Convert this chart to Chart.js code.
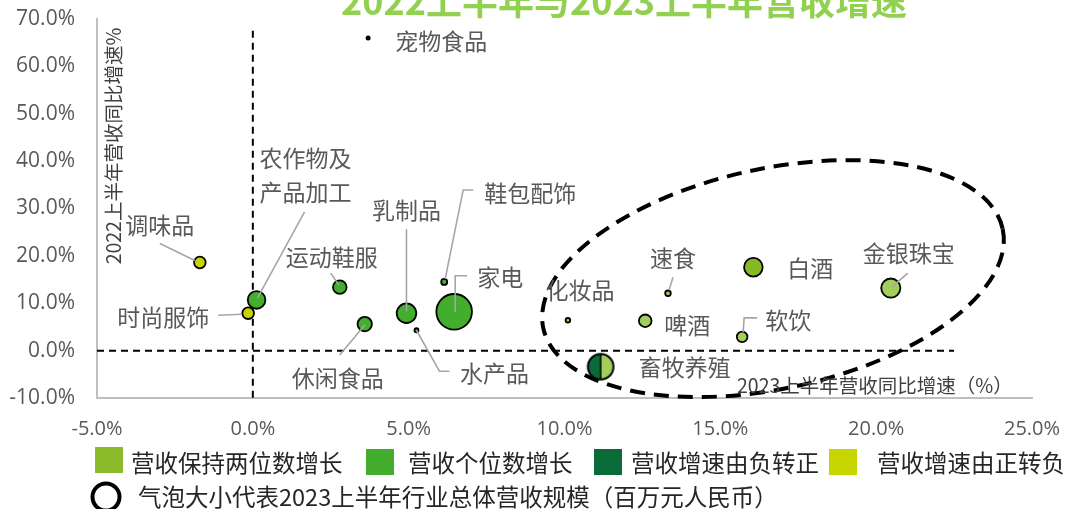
<!DOCTYPE html>
<html>
<head>
<meta charset="utf-8">
<script src="https://cdn.jsdelivr.net/npm/chart.js@4.4.0/dist/chart.umd.min.js"></script>
<style>
html,body{margin:0;padding:0;background:#fff;}
#wrap{position:relative;width:1071px;height:509px;overflow:hidden;}
canvas{position:absolute;left:0;top:0;}
</style>
</head>
<body>
<div id="wrap"><canvas id="c" width="1071" height="509"></canvas></div>
<script>
// ---------------- data ----------------
const industries = ['宠物食品','调味品','时尚服饰','农作物及产品加工','运动鞋服','休闲食品','乳制品','水产品','鞋包配饰','家电','化妆品','速食','啤酒','白酒','软饮','金银珠宝','畜牧养殖'];
const growth2023 = [3.7, -1.7, -0.15, 0.12, 2.79, 3.59, 4.93, 5.25, 6.14, 6.46, 10.11, 13.32, 12.59, 16.06, 15.7, 20.47, 11.16];
const growth2022 = [66.0, 18.6, 7.9, 10.7, 13.4, 5.6, 7.9, 4.3, 14.5, 8.2, 6.4, 12.1, 6.3, 17.6, 2.9, 13.2, -3.4];
const bubbleSize = [2.5, 5.8, 5.8, 8.8, 6.8, 7.2, 9.8, 2.0, 3.0, 17.8, 2.3, 2.8, 6.3, 9.3, 5.3, 9.6, 12.8];
const growthGroup = ['note','posToNeg','posToNeg','single','single','single','single','single','single','single','doubleLight','doubleLight','doubleLight','double','doubleLight','doubleLight','negToPos'];
const legendGroups = ['营收保持两位数增长','营收个位数增长','营收增速由负转正','营收增速由正转负'];
const legendSizeNote = '气泡大小代表2023上半年行业总体营收规模（百万元人民币）';
const xTicks = [-5, 0, 5, 10, 15, 20, 25];
const yTicks = [-10, 0, 10, 20, 30, 40, 50, 60, 70];
const chartTitle = '2022上半年与2023上半年营收增速';
const xTitle = '2023上半年营收同比增速（%）';
const yTitle = '2022上半年营收同比增速%';

// ---------------- styles ----------------
const groupColors = {
  note: '#000000',
  double: '#86BA25',
  doubleLight: '#A2CE5C',
  single: '#43AE2D',
  negToPos: '#0B6B38',
  posToNeg: '#C6D500'
};
const legendColors = ['#8BBB2A', '#43AE2D', '#0B6B38', '#C6D600'];

// label placement (pixel offsets from the bubble centre)
const labelLayout = [
  {lines:[[73,3]], leader:null},
  {lines:[[-40,-37]], leader:[[-40,-19],[-5,-2]]},
  {lines:[[-85,4]], leader:[[-30,2],[-7,1]]},
  {lines:[[49,-142],[49,-108]], leader:[[48,-88],[1,-2]], text:['农作物及','产品加工']},
  {lines:[[-8,-30]], leader:[[-9,-14],[-1,-2]]},
  {lines:[[-27,54]], leader:[[-25,31],[0,1]]},
  {lines:[[0,-103]], leader:[[0,-84],[0,-2]]},
  {lines:[[78,43]], leader:[[33,41],[23,41],[0,0]]},
  {lines:[[86,-89]], leader:[[29,-92],[19,-92],[1,-3]]},
  {lines:[[46,-35]], leader:[[13,-36],[1,-36],[1,0]]},
  {lines:[[12,-30]], leader:null},
  {lines:[[5,-35]], leader:[[5,-16],[1,-3]]},
  {lines:[[42,4]], leader:null},
  {lines:[[57,1]], leader:null},
  {lines:[[46,-17]], leader:[[15,-19],[2,-19],[1,-5]]},
  {lines:[[18,-35]], leader:[[17,-15],[1,-1]]},
  {lines:[[84,1]], leader:null}
];
const ellipseSpec = {cx:16.69, cy:15.2, a:7.54, b:3.53, angleDeg:-12.2};

const CJK = '"Noto Sans CJK SC", "Noto Sans", sans-serif';

function halfMarker(r) {
  const s = Math.ceil(2 * r + 4);
  const cv = document.createElement('canvas');
  cv.width = s; cv.height = s;
  const g = cv.getContext('2d');
  const c = s / 2;
  g.fillStyle = groupColors.negToPos;
  g.beginPath(); g.arc(c, c, r, Math.PI / 2, Math.PI * 1.5); g.closePath(); g.fill();
  g.fillStyle = groupColors.doubleLight;
  g.beginPath(); g.arc(c, c, r, -Math.PI / 2, Math.PI / 2); g.closePath(); g.fill();
  g.strokeStyle = '#000'; g.lineWidth = 1.5;
  g.beginPath(); g.moveTo(c, c - r); g.lineTo(c, c + r); g.stroke();
  g.lineWidth = 2;
  g.beginPath(); g.arc(c, c, r, 0, Math.PI * 2); g.stroke();
  return cv;
}

const points = industries.map((n, i) => ({x: growth2023[i], y: growth2022[i], r: bubbleSize[i]}));
const bg = growthGroup.map(g => groupColors[g]);
const styles = growthGroup.map((g, i) => g === 'negToPos' ? halfMarker(bubbleSize[i]) : 'circle');
const bw = growthGroup.map(g => g === 'note' ? 0 : 1.8);

const overlay = {
  id: 'overlay',
  beforeDatasetsDraw(chart) {
    const {ctx, scales: {x, y}} = chart;
    ctx.save();
    ctx.strokeStyle = '#000'; ctx.lineWidth = 2; ctx.setLineDash([7, 5]);
    ctx.beginPath();
    ctx.moveTo(x.getPixelForValue(0), y.getPixelForValue(67.5));
    ctx.lineTo(x.getPixelForValue(0), y.getPixelForValue(-10));
    ctx.stroke();
    ctx.beginPath();
    ctx.moveTo(x.getPixelForValue(-5), y.getPixelForValue(0));
    ctx.lineTo(x.getPixelForValue(22.5), y.getPixelForValue(0));
    ctx.stroke();
    const unit = x.getPixelForValue(1) - x.getPixelForValue(0);
    ctx.lineWidth = 4; ctx.setLineDash([15, 9]);
    ctx.beginPath();
    ctx.ellipse(x.getPixelForValue(ellipseSpec.cx), y.getPixelForValue(ellipseSpec.cy),
      ellipseSpec.a * unit, ellipseSpec.b * unit, ellipseSpec.angleDeg * Math.PI / 180, 0, Math.PI * 2);
    ctx.stroke();
    ctx.restore();
  },
  afterDatasetsDraw(chart) {
    const {ctx, scales: {x, y}} = chart;
    ctx.save();
    ctx.strokeStyle = '#A6A6A6'; ctx.lineWidth = 1.6; ctx.setLineDash([]);
    industries.forEach((n, i) => {
      const L = labelLayout[i];
      if (!L.leader) return;
      const px = x.getPixelForValue(growth2023[i]), py = y.getPixelForValue(growth2022[i]);
      ctx.beginPath();
      L.leader.forEach((p, k) => { if (k === 0) ctx.moveTo(px + p[0], py + p[1]); else ctx.lineTo(px + p[0], py + p[1]); });
      ctx.stroke();
    });
    ctx.fillStyle = '#595959'; ctx.font = '23px ' + CJK;
    ctx.textAlign = 'center'; ctx.textBaseline = 'middle';
    industries.forEach((n, i) => {
      const L = labelLayout[i];
      const px = x.getPixelForValue(growth2023[i]), py = y.getPixelForValue(growth2022[i]);
      const texts = L.text || [n];
      L.lines.forEach((o, k) => ctx.fillText(texts[k], px + o[0], py + o[1]));
    });
    ctx.fillStyle = '#404040'; ctx.font = '19.5px ' + CJK;
    ctx.textAlign = 'left';
    ctx.fillText(xTitle, 737, 386);
    ctx.save();
    ctx.translate(114, 146); ctx.rotate(-Math.PI / 2);
    ctx.textAlign = 'center';
    ctx.fillText(yTitle, 0, 0);
    ctx.restore();
    ctx.fillStyle = '#92D050'; ctx.font = 'bold 36px ' + CJK;
    ctx.textAlign = 'center'; ctx.textBaseline = 'alphabetic';
    ctx.fillText(chartTitle, 624, 15);
    ctx.textAlign = 'left'; ctx.textBaseline = 'middle';
    ctx.font = '23.5px ' + CJK;
    const sw = [[95, 447], [366, 449], [594, 449], [829, 449]];
    const tx = [131, 408, 631, 877];
    legendGroups.forEach((t, i) => {
      ctx.fillStyle = legendColors[i];
      ctx.fillRect(sw[i][0], sw[i][1], 28, 26);
      ctx.fillStyle = '#262626';
      ctx.fillText(t, tx[i], 463);
    });
    ctx.strokeStyle = '#000'; ctx.lineWidth = 4;
    ctx.beginPath(); ctx.arc(106, 497, 13.5, 0, Math.PI * 2); ctx.stroke();
    ctx.fillText(legendSizeNote, 138, 497);
    ctx.restore();
  }
};

new Chart(document.getElementById('c'), {
  type: 'bubble',
  data: {
    datasets: [{
      data: points,
      backgroundColor: bg,
      borderColor: '#000000',
      borderWidth: bw,
      pointStyle: styles,
      clip: false
    }]
  },
  options: {
    responsive: false,
    animation: false,
    devicePixelRatio: 1,
    layout: {autoPadding: false, padding: {top: 19, right: 39, bottom: 71, left: 0}},
    plugins: {legend: {display: false}, tooltip: {enabled: false}, title: {display: false}},
    scales: {
      x: {
        type: 'linear', min: -5, max: 25,
        afterBuildTicks: s => { s.ticks = xTicks.map(v => ({value: v})); },
        afterFit: s => { s.height = 40; s.paddingLeft = 0; s.paddingRight = 0; },
        grid: {display: false, drawTicks: false},
        border: {display: true, color: '#BFBFBF', width: 2},
        ticks: {padding: 19, color: '#595959', font: {family: '"Open Sans"', size: 20},
          callback: v => v.toFixed(1) + '%'}
      },
      y: {
        type: 'linear', min: -10, max: 70,
        afterBuildTicks: s => { s.ticks = yTicks.map(v => ({value: v})); },
        afterFit: s => { s.width = 97; s.paddingTop = 0; s.paddingBottom = 0; },
        grid: {display: false, drawTicks: false},
        border: {display: true, color: '#BFBFBF', width: 2},
        ticks: {padding: 22, color: '#595959', font: {family: '"Open Sans"', size: 21},
          callback: v => v.toFixed(1) + '%'}
      }
    }
  },
  plugins: [overlay]
});
</script>
</body>
</html>
